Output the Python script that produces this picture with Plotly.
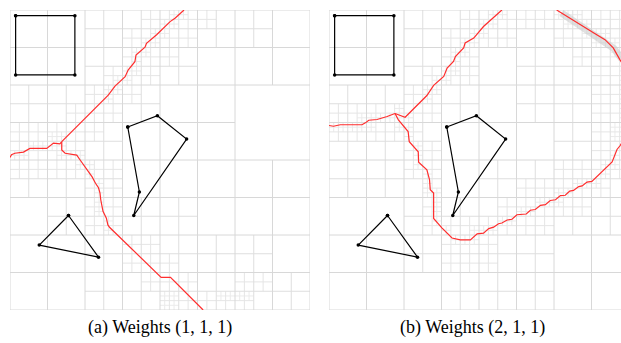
import plotly.graph_objects as go

# ---------------- data (grid units: panel = 8 x 8, v measured downward) ----------------
square_u = [0.15, 1.73, 1.73, 0.15, 0.15]
square_v = [0.15, 0.15, 1.73, 1.73, 0.15]
quad_u = [3.14, 3.93, 4.71, 3.30, 3.45, 3.14]
quad_v = [3.12, 2.82, 3.44, 5.48, 4.85, 3.12]
tri_u = [1.56, 0.78, 2.36, 1.56]
tri_v = [5.48, 6.27, 6.59, 5.48]

# left panel red curve (weights 1,1,1)
A_top_u = [4.64, 4.40, 4.27, 3.91, 3.64, 3.60, 3.36, 3.33, 3.15, 3.07, 2.93, 2.80, 2.62, 1.38]
A_top_v = [0.00, 0.22, 0.31, 0.66, 0.89, 0.99, 1.20, 1.38, 1.60, 1.78, 1.91, 2.03, 2.27, 3.51]
A_left_u = [1.38, 1.33, 1.16, 1.07, 0.98, 0.53, 0.36, 0.13, 0.04, 0.00]
A_left_v = [3.51, 3.57, 3.55, 3.62, 3.69, 3.69, 3.79, 3.82, 3.86, 3.93]
A_low_u = [1.38, 1.38, 1.47, 1.78, 1.87, 2.06, 2.19, 2.28, 2.36, 2.40, 2.42, 2.48, 2.57, 2.61, 2.66, 4.03, 4.28, 5.15]
A_low_v = [3.51, 3.73, 3.82, 3.87, 4.00, 4.25, 4.45, 4.62, 4.74, 4.88, 5.06, 5.37, 5.55, 5.73, 5.80, 7.13, 7.13, 8.00]

# right panel red curve (weights 2,1,1)
B_top_u = [4.61, 4.30, 4.12, 3.86, 3.63, 3.59, 3.37, 3.32, 3.15, 3.06, 2.79, 2.61, 2.03, 1.76]
B_top_v = [0.00, 0.28, 0.44, 0.75, 0.88, 1.01, 1.24, 1.37, 1.55, 1.77, 2.01, 2.28, 2.86, 2.76]
B_left_u = [1.76, 1.55, 1.28, 1.06, 0.97, 0.88, 0.30, 0.12, 0.00]
B_left_v = [2.76, 2.84, 2.92, 2.94, 3.01, 3.06, 3.06, 3.10, 3.08]
B_low_u = [1.76, 1.85, 2.11, 2.14, 2.38, 2.39, 2.61, 2.68, 2.70, 2.79, 2.79, 3.01, 3.28, 3.50, 3.77,
           3.95, 4.12, 4.26, 4.39, 4.52, 4.61, 4.75, 4.88, 5.01, 5.26, 5.37, 5.50, 5.64, 5.77, 5.90,
           6.04, 6.17, 6.30, 6.42, 6.52, 6.66, 6.75, 6.88, 7.01, 7.55, 7.59, 7.68, 7.76, 7.90]
B_low_v = [2.76, 2.93, 3.24, 3.51, 3.78, 4.06, 4.26, 4.52, 4.79, 4.88, 5.56, 5.81, 6.08, 6.13, 6.13,
           5.97, 5.95, 5.83, 5.79, 5.70, 5.68, 5.60, 5.58, 5.46, 5.44, 5.34, 5.32, 5.21, 5.19, 5.08,
           5.06, 4.95, 4.94, 4.83, 4.81, 4.71, 4.69, 4.59, 4.57, 4.05, 3.95, 3.72, 3.62, 3.40]
B_tr_u = [6.07, 6.34, 6.69, 6.96, 7.14, 7.36, 7.58, 7.76, 7.90]
B_tr_v = [0.00, 0.17, 0.39, 0.57, 0.66, 0.79, 1.01, 1.33, 1.55]
# dense-refinement shading along the upper-right branch
B_band_u = [6.20, 6.45, 6.70, 6.95, 7.15, 7.40, 7.60, 7.80]
B_band_v = [0.08, 0.25, 0.40, 0.56, 0.68, 0.84, 1.03, 1.30]

# quadtree: cells that are split at each level (i, j) ; level-2 cells are 2 units wide
A_split2 = [(i, j) for j in range(4) for i in range(4) if (i, j) != (3, 1)]
B_split2 = [(i, j) for j in range(4) for i in range(4)]

A_split3 = [(2,0),(3,0),(4,0),(5,0),(6,0),
            (2,1),(3,1),(4,1),
            (0,2),(1,2),(2,2),(3,2),
            (0,3),(1,3),(2,3),
            (0,4),(1,4),(2,4),
            (1,5),(2,5),(3,5),(4,5),
            (2,6),(3,6),(4,6),(5,6),(6,6),
            (2,7),(3,7),(4,7),(5,7),(6,7),(7,7)]
A_split4 = [(9,0),(8,0),(10,0),(7,0),(8,1),(9,1),(7,1),(6,1),(7,2),(6,2),(8,2),(6,3),(5,3),(7,3),
            (5,4),(6,4),(4,4),(4,5),(5,5),(3,5),(3,6),(4,6),(2,6),(3,7),(2,7),
            (1,7),(0,7),(1,6),(0,6),(0,8),(1,8),(2,8),(3,8),
            (4,8),(4,9),(5,9),(4,10),(5,10),(4,11),(5,11),(5,8),(6,12),(7,13),(6,13),(7,12),
            (8,14),(7,14),(8,15),(9,15),(9,14),(10,15),(11,15),(12,15),(12,14),(13,14),(8,13)]
A_split5 = [(18,0),(17,0),(17,1),(16,1),(16,2),(15,2),(15,3),(14,3),(14,4),(13,4),(13,5),(13,6),
            (12,6),(12,7),(11,7),(11,8),(10,8),(10,9),
            (5,13),(5,14),(4,14),(3,14),(2,14),(1,15),(0,15),(4,13),
            (5,15),(6,15),(7,15),(7,16),(8,16),(8,17),(9,18),(9,19),(9,20),(9,21),(10,22),(10,23),
            (16,30),(17,30),(16,31),(17,31),(22,30),(23,30),(24,30),(25,30)]

B_split3 = [(2,0),(3,0),(4,0),(5,0),(6,0),(7,0),
            (2,1),(3,1),(5,1),(6,1),(7,1),
            (0,2),(1,2),(2,2),(3,2),(5,2),(6,2),(7,2),
            (0,3),(1,3),(2,3),(6,3),(7,3),
            (0,4),(1,4),(2,4),(4,4),(5,4),(6,4),(7,4),
            (2,5),(3,5),(4,5),(5,5),(6,5),(7,5),
            (2,6),(3,6),(4,6),(5,6),
            (3,7),(4,7),(5,7)]
B_split4 = [(9,0),(8,0),(10,0),(7,0),(8,1),(9,1),(7,1),(6,1),(7,2),(6,2),(6,3),(5,3),(7,3),
            (5,4),(4,4),(4,5),(5,5),(3,5),
            (2,5),(1,5),(0,5),(0,6),(1,6),(2,6),(3,6),
            (4,6),(4,7),(5,7),(4,8),(5,8),(5,9),(5,10),(5,11),(6,11),(6,12),(7,12),(7,11),(8,11),
            (8,12),(9,11),(9,10),(10,10),(11,10),(12,10),(12,9),(13,9),(14,9),(14,8),(15,8),(15,7),
            (15,6),(14,7),(10,11),(11,11),(13,10),(6,13),(7,13),(8,13),
            (12,0),(13,0),(13,1),(14,1),(14,2),(15,1),(15,2),(15,3),(12,1),(11,0),(13,2),(14,0),
            (15,0),(14,3),(15,4),(15,5),(14,4),(14,5),(14,6),(10,9),(11,9),(12,8),(13,8)]
B_split5 = [(18,0),(17,0),(17,1),(16,1),(16,2),(15,2),(15,3),(14,3),(14,4),(13,4),(13,5),(13,6),
            (12,6),(12,7),(11,7),(11,8),(10,8),(10,9),
            (8,11),(7,11),(7,10),(6,11),(5,11),(4,11),(3,12),(2,12),(1,12),(0,12),(4,12),(3,11),
            (7,12),(8,12),(8,13),(9,14),(9,15),(9,16),(10,17),(10,18),(10,19),(11,19),(11,20),
            (11,21),(11,22),(12,23),(13,24),(14,24),(15,24),(15,23),(16,23),(17,23),(18,22),(19,22),
            (20,21),(21,21),(22,20),(23,20),(24,20),(24,19),(25,19),(26,18),(27,18),(28,18),(29,17),
            (29,16),(30,16),(30,15),(31,14),(31,13),
            (24,0),(25,0),(26,1),(27,1),(27,2),(28,2),(29,3),(30,3),(30,4),(31,4),(31,5),(26,0),
            (28,3),(29,2),(25,1),
            (31,6),(31,7),(31,8),(31,9),(31,10),(31,11),(31,12),(30,12),(30,13)]

captions = ["(a) Weights (1, 1, 1)", "(b) Weights (2, 1, 1)"]

# ---------------- figure ----------------
W, H = 621, 343
SIZE = 8.0


def cell_lines(cells, size):
    xs, ys = [], []
    for i, j in cells:
        x0, y0 = i * size, j * size
        xm, ym = x0 + size / 2, y0 + size / 2
        xs += [xm, xm, None, x0, x0 + size, None]
        ys += [y0, y0 + size, None, ym, ym, None]
    return xs, ys


def grid_traces(split2, split3, split4, split5, xa, ya):
    traces = []
    xs, ys = [0, SIZE, SIZE, 0, 0, None], [0, 0, SIZE, SIZE, 0, None]
    for cells, size in (([(0, 0)], 8.0), ([(0, 0), (1, 0), (0, 1), (1, 1)], 4.0), (split2, 2.0)):
        a, b = cell_lines(cells, size)
        xs += a
        ys += b
    levels = [((xs, ys), "rgb(216,216,216)"),
              (cell_lines(split3, 1.0), "rgb(222,222,222)"),
              (cell_lines(split4, 0.5), "rgb(229,229,229)"),
              (cell_lines(split5, 0.25), "rgb(235,235,235)")]
    for (lx, ly), col in reversed(levels):
        traces.append(go.Scatter(x=lx, y=ly, mode="lines", line=dict(color=col, width=1),
                                 xaxis=xa, yaxis=ya, hoverinfo="skip", showlegend=False))
    return traces


def shape_traces(xa, ya):
    out = []
    for u, v in ((square_u, square_v), (quad_u, quad_v), (tri_u, tri_v)):
        out.append(go.Scatter(x=u, y=v, mode="lines+markers",
                              line=dict(color="black", width=1.2),
                              marker=dict(color="black", size=3.5),
                              xaxis=xa, yaxis=ya, hoverinfo="skip", showlegend=False))
    return out


def curve(u, v, xa, ya):
    return go.Scatter(x=u, y=v, mode="lines", line=dict(color="rgb(255,45,45)", width=1.2),
                      xaxis=xa, yaxis=ya, hoverinfo="skip", showlegend=False)


fig = go.Figure()
for t in grid_traces(A_split2, A_split3, A_split4, A_split5, "x", "y"):
    fig.add_trace(t)
for t in grid_traces(B_split2, B_split3, B_split4, B_split5, "x2", "y2"):
    fig.add_trace(t)

fig.add_trace(go.Scatter(x=B_band_u, y=B_band_v, mode="lines",
                         line=dict(color="rgba(200,200,200,0.55)", width=7),
                         xaxis="x2", yaxis="y2", hoverinfo="skip", showlegend=False))

for u, v in ((A_top_u, A_top_v), (A_left_u, A_left_v), (A_low_u, A_low_v)):
    fig.add_trace(curve(u, v, "x", "y"))
for u, v in ((B_top_u, B_top_v), (B_left_u, B_left_v), (B_low_u, B_low_v), (B_tr_u, B_tr_v)):
    fig.add_trace(curve(u, v, "x2", "y2"))

for t in shape_traces("x", "y"):
    fig.add_trace(t)
for t in shape_traces("x2", "y2"):
    fig.add_trace(t)

ax = dict(visible=False, showgrid=False, zeroline=False, fixedrange=True)
ydom = [33 / H, 333 / H]
cap_font = dict(family="Liberation Serif", size=18, color="black")
fig.update_layout(
    width=W, height=H,
    margin=dict(l=0, r=0, t=0, b=0),
    paper_bgcolor="white", plot_bgcolor="white",
    xaxis=dict(domain=[10 / W, 310 / W], range=[0, SIZE], **ax),
    yaxis=dict(domain=ydom, range=[SIZE, 0], **ax),
    xaxis2=dict(domain=[329 / W, 1.0], range=[0, 292 / 37.5], **ax),
    yaxis2=dict(domain=ydom, range=[SIZE, 0], anchor="x2", **ax),
    annotations=[
        dict(text=captions[0], x=160 / W, y=(H - 327) / H, xref="paper", yref="paper",
             xanchor="center", yanchor="middle", showarrow=False, font=cap_font),
        dict(text=captions[1], x=472 / W, y=(H - 327) / H, xref="paper", yref="paper",
             xanchor="center", yanchor="middle", showarrow=False, font=cap_font),
    ],
)
fig.write_html("out.html", config={"displayModeBar": False, "staticPlot": True},
               post_script="document.body.style.margin='0';document.body.style.overflow='hidden';")
